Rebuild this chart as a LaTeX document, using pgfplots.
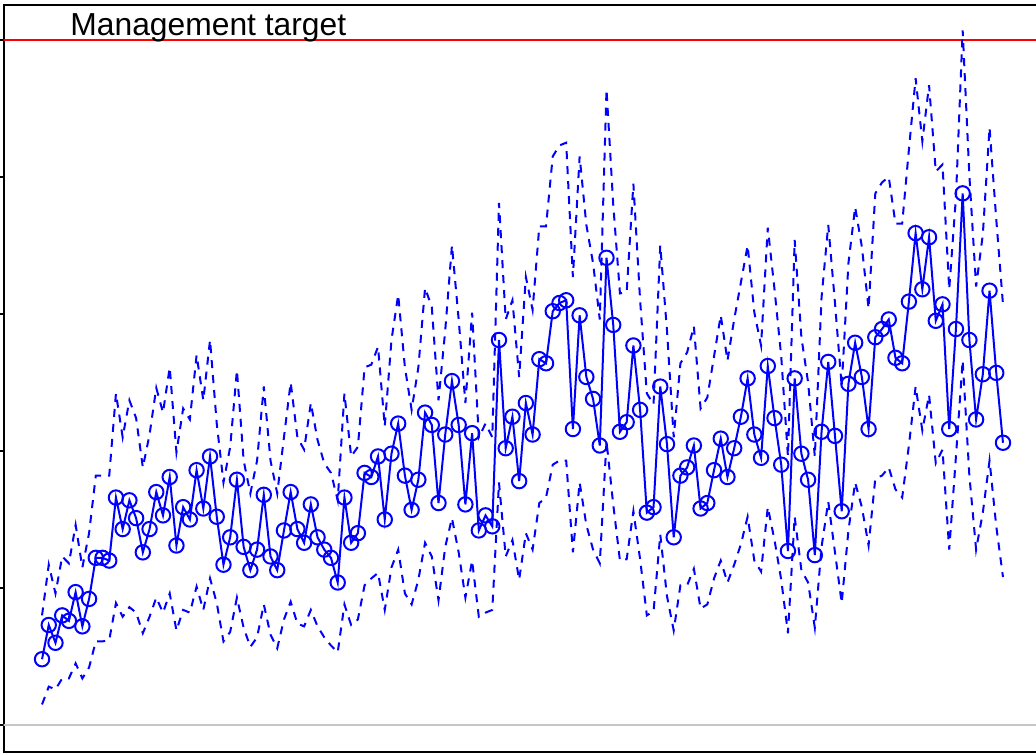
\documentclass[border=0pt]{standalone}
\usepackage{pgfplots}
\usepackage{pgfplotstable}
\usepackage{fontspec}
\setmainfont{Liberation Sans}
\pgfplotsset{compat=1.18}

% Estimate with lower and upper interval bounds, one row per period
\pgfplotstableread{
t est lo hi
1 0.48 0.15 0.80
2 0.73 0.28 1.17
3 0.60 0.26 0.96
4 0.80 0.34 1.23
5 0.76 0.34 1.18
6 0.97 0.45 1.46
7 0.72 0.34 1.15
8 0.92 0.42 1.40
9 1.22 0.61 1.82
10 1.22 0.61 1.82
11 1.20 0.62 1.82
12 1.66 0.89 2.42
13 1.43 0.79 2.10
14 1.64 0.86 2.37
15 1.51 0.82 2.24
16 1.26 0.67 1.88
17 1.43 0.79 2.12
18 1.70 0.93 2.46
19 1.53 0.82 2.28
20 1.81 0.96 2.61
21 1.31 0.69 1.99
22 1.59 0.84 2.31
23 1.50 0.82 2.23
24 1.86 1.01 2.70
25 1.58 0.84 2.37
26 1.96 1.07 2.81
27 1.52 0.89 2.20
28 1.17 0.61 1.77
29 1.37 0.68 2.03
30 1.79 0.93 2.59
31 1.30 0.71 1.93
32 1.13 0.57 1.69
33 1.28 0.64 1.93
34 1.68 0.88 2.47
35 1.23 0.66 1.93
36 1.13 0.56 1.69
37 1.42 0.77 2.10
38 1.70 0.90 2.50
39 1.43 0.74 2.10
40 1.33 0.72 2.01
41 1.61 0.84 2.35
42 1.37 0.72 2.08
43 1.28 0.64 1.91
44 1.22 0.58 1.84
45 1.04 0.53 1.64
46 1.66 0.88 2.42
47 1.33 0.73 1.96
48 1.40 0.77 2.03
49 1.84 1.02 2.61
50 1.81 1.07 2.63
51 1.96 1.11 2.76
52 1.50 0.84 2.18
53 1.98 1.15 2.81
54 2.20 1.28 3.14
55 1.82 0.96 2.61
56 1.57 0.88 2.30
57 1.79 1.06 2.61
58 2.28 1.33 3.19
59 2.19 1.23 3.05
60 1.62 0.91 2.37
61 2.12 1.30 2.88
62 2.51 1.51 3.50
63 2.19 1.26 2.96
64 1.61 0.93 2.35
65 2.13 1.20 3.01
66 1.42 0.79 2.10
67 1.53 0.82 2.20
68 1.45 0.84 2.10
69 2.81 1.77 3.81
70 2.02 1.23 2.96
71 2.25 1.35 3.10
72 1.78 1.06 2.54
73 2.35 1.40 3.27
74 2.12 1.28 3.03
75 2.67 1.62 3.64
76 2.64 1.66 3.64
77 3.02 1.90 4.15
78 3.08 1.93 4.23
79 3.10 1.93 4.25
80 2.16 1.26 3.27
81 2.99 1.77 4.15
82 2.54 1.46 3.65
83 2.38 1.28 3.37
84 2.04 1.18 2.96
85 3.41 2.07 4.64
86 2.92 1.61 3.80
87 2.14 1.20 3.15
88 2.21 1.21 3.16
89 2.77 1.56 3.95
90 2.30 1.21 3.10
91 1.55 0.80 2.42
92 1.59 0.83 2.34
93 2.47 1.39 3.50
94 2.05 0.94 2.88
95 1.37 0.69 2.10
96 1.82 1.02 2.64
97 1.88 1.02 2.72
98 2.04 1.14 2.91
99 1.58 0.85 2.31
100 1.62 0.88 2.39
101 1.86 1.07 2.69
102 2.09 1.20 2.99
103 1.81 1.04 2.66
104 2.02 1.17 2.96
105 2.25 1.32 3.23
106 2.53 1.52 3.50
107 2.12 1.20 3.01
108 1.95 1.12 2.77
109 2.62 1.59 3.63
110 2.24 1.35 3.18
111 1.90 1.06 2.69
112 1.27 0.67 1.96
113 2.53 1.52 3.54
114 1.98 1.13 2.83
115 1.79 1.04 2.50
116 1.24 0.71 1.96
117 2.14 1.30 3.12
118 2.65 1.63 3.65
119 2.11 1.26 3.08
120 1.56 0.89 2.47
121 2.49 1.42 3.37
122 2.79 1.77 3.78
123 2.54 1.59 3.49
124 2.16 1.31 3.04
125 2.83 1.80 3.88
126 2.89 1.82 3.96
127 2.96 1.88 4.00
128 2.68 1.72 3.66
129 2.64 1.66 3.66
130 3.09 2.04 4.20
131 3.59 2.47 4.72
132 3.18 2.15 4.26
133 3.56 2.41 4.67
134 2.95 1.91 4.04
135 3.07 2.01 4.09
136 2.16 1.28 3.18
137 2.89 1.96 3.85
138 3.88 2.66 5.07
139 2.81 1.82 4.01
140 2.23 1.28 3.20
141 2.56 1.55 3.58
142 3.17 1.93 4.36
143 2.57 1.45 3.69
144 2.06 1.08 3.07
}\series

\begin{document}
\begin{tikzpicture}
\begin{axis}[
  at={(1.8pt,1pt)}, anchor=south west,
  scale only axis, width=518.9pt, height=373.5pt,
  xmin=-4.72, xmax=149.72, ymin=-0.197, ymax=5.255,
  xtick=\empty,
  ytick={0,1,2,3,4,5}, yticklabels={},
  tick align=outside, major tick length=2.4pt,
  every tick/.style={black, line width=0.85pt},
  axis line style={black, line width=0.9pt},
]
  % reference levels
  \addplot[gray!45, line width=1.1pt, forget plot] coordinates {(-10,0) (160,0)};
  \addplot[red, line width=1.1pt, forget plot] coordinates {(-10,5) (160,5)};
  % interval bounds
  \addplot[blue, line width=1pt, dash pattern=on 4pt off 3.5pt, no markers]
    table[x=t, y=hi] {\series};
  \addplot[blue, line width=1pt, dash pattern=on 4pt off 3.5pt, no markers]
    table[x=t, y=lo] {\series};
  % estimate
  \addplot[blue, line width=1pt, mark=o, mark size=3.6pt,
    mark options={line width=1pt, solid}]
    table[x=t, y=est] {\series};
  \node[anchor=base west, font=\fontsize{15.9}{18}\selectfont, inner sep=0pt]
    at (axis cs:5.17,5.03) {Management target};
\end{axis}
\pgfresetboundingbox
\path[use as bounding box] (0,0) rectangle (518pt,377pt);
\end{tikzpicture}
\end{document}
